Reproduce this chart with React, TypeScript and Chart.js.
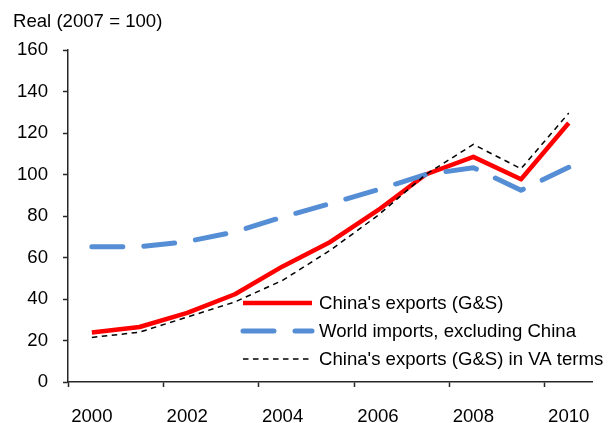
import React, { useEffect, useRef } from "react";
import { Chart, registerables } from "chart.js";

Chart.register(...registerables);

const years = ["2000", "2001", "2002", "2003", "2004", "2005", "2006", "2007", "2008", "2009", "2010"];
const chinaExports = [23.9, 26.5, 33.3, 42.3, 55.7, 67.5, 82.8, 100, 108.5, 97.7, 124.8];
const worldImports = [65.2, 65.2, 67.7, 72.3, 79.5, 86, 92.7, 100, 103.3, 92.4, 103.5];
const chinaExportsVA = [21.5, 24, 31.3, 38.6, 49, 63.5, 80.3, 100, 114.5, 102.8, 129.6];
const seriesNames = [
  "China's exports (G&S)",
  "World imports, excluding China",
  "China's exports (G&S) in VA terms",
];
const yTicks = [0, 20, 40, 60, 80, 100, 120, 140, 160];

const FONT = "'Liberation Sans', Arial, sans-serif";
const FSIZE = 18.6;
const AXIS = "#262626";

const legendPlugin = {
  id: "customLegend",
  afterDraw(chart: any) {
    const { ctx, chartArea } = chart;
    const rows = [chartArea.bottom - 79, chartArea.bottom - 51, chartArea.bottom - 23];
    const x0 = chartArea.left + 175;
    const x1 = chartArea.left + 244;
    const tx = chartArea.left + 251;
    ctx.save();
    chart.data.datasets.forEach((ds: any, i: number) => {
      const y = rows[i];
      ctx.beginPath();
      ctx.strokeStyle = ds.borderColor;
      ctx.lineWidth = ds.borderWidth;
      ctx.lineCap = ds.borderCapStyle || "butt";
      ctx.setLineDash(ds.borderDash || []);
      ctx.moveTo(x0, y);
      ctx.lineTo(x1, y);
      ctx.stroke();
      ctx.setLineDash([]);
      ctx.fillStyle = "#000";
      ctx.font = `${FSIZE}px ${FONT}`;
      ctx.textBaseline = "middle";
      ctx.textAlign = "left";
      ctx.fillText(ds.label, tx, y + 1);
    });
    ctx.restore();
  },
};

export default function App() {
  const ref = useRef<HTMLCanvasElement>(null);
  useEffect(() => {
    if (!ref.current) return;
    const chart = new Chart(ref.current, {
      type: "line",
      data: {
        labels: years,
        datasets: [
          {
            label: seriesNames[0],
            data: chinaExports,
            borderColor: "#ff0000",
            borderWidth: 4.5,
            borderJoinStyle: "round",
            borderCapStyle: "butt",
            pointRadius: 0,
            tension: 0,
            order: 3,
          },
          {
            label: seriesNames[1],
            data: worldImports,
            borderColor: "#558ed5",
            borderWidth: 5,
            borderDash: [31, 21],
            borderCapStyle: "round",
            borderJoinStyle: "round",
            pointRadius: 0,
            tension: 0,
            order: 2,
          },
          {
            label: seriesNames[2],
            data: chinaExportsVA,
            borderColor: "#000000",
            borderWidth: 1.5,
            borderDash: [5.5, 4.5],
            pointRadius: 0,
            tension: 0,
            order: 1,
          },
        ],
      },
      options: {
        animation: false,
        responsive: false,
        maintainAspectRatio: false,
        layout: { padding: { left: 13, right: 13, top: 0, bottom: 0 } },
        plugins: {
          legend: { display: false },
          tooltip: { enabled: false },
          title: {
            display: true,
            text: "Real (2007 = 100)",
            align: "start",
            color: "#000",
            font: { family: FONT, size: FSIZE, weight: "normal", lineHeight: 1.2 },
            padding: { top: 10.5, bottom: 17.2 },
          },
        },
        scales: {
          x: {
            type: "category",
            offset: true,
            border: { display: true, color: AXIS, width: 1.5 },
            grid: {
              display: true,
              offset: true,
              drawOnChartArea: false,
              drawTicks: true,
              tickLength: 5,
              tickWidth: 1.5,
              tickColor: (c: any) =>
                c.index !== undefined && c.index % 2 === 0 ? AXIS : "rgba(0,0,0,0)",
            },
            ticks: {
              autoSkip: false,
              maxRotation: 0,
              padding: 19,
              color: "#000",
              font: { family: FONT, size: FSIZE },
              callback: (_v: any, i: number) => (i % 2 === 0 ? years[i] : ""),
            },
            afterFit: (s: any) => {
              s.height = 41;
            },
          },
          y: {
            min: 0,
            max: 160,
            afterBuildTicks: (s: any) => {
              s.ticks = yTicks.map((v) => ({ value: v }));
            },
            border: { display: true, color: AXIS, width: 1.5 },
            grid: {
              display: true,
              drawOnChartArea: false,
              drawTicks: true,
              tickLength: 5,
              tickWidth: 1.5,
              tickColor: AXIS,
            },
            ticks: {
              padding: 15,
              color: "#000",
              font: { family: FONT, size: FSIZE },
            },
            afterFit: (s: any) => {
              s.width = 55;
            },
          },
        },
      },
      plugins: [legendPlugin],
    });
    return () => chart.destroy();
  }, []);
  return (
    <div style={{ position: "fixed", left: 0, top: 0, width: 609, height: 423, background: "#fff" }}>
      <canvas ref={ref} width={609} height={423} style={{ display: "block" }} />
    </div>
  );
}
